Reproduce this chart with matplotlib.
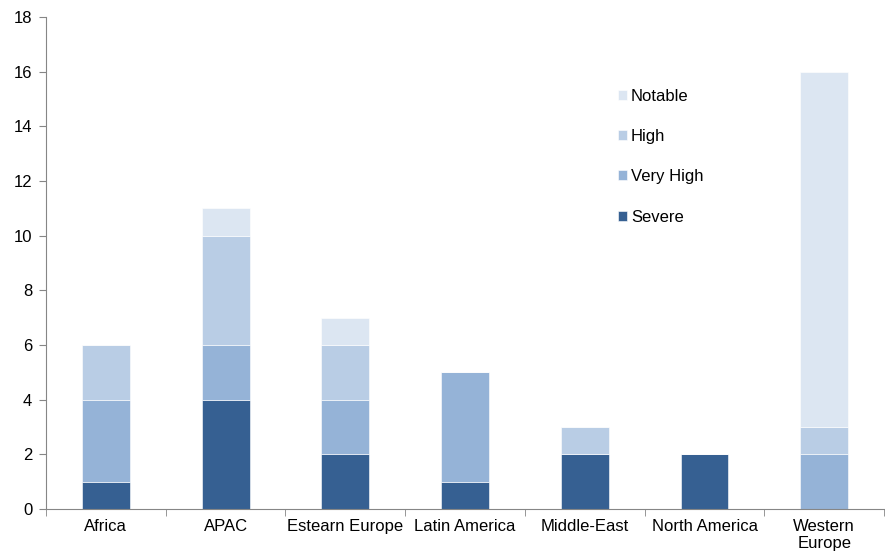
import numpy as np
import matplotlib.pyplot as plt

# Regions and severity counts
regions = ['Africa', 'APAC', 'Estearn Europe', 'Latin America',
           'Middle-East', 'North America', 'Western\nEurope']
severe = [1, 4, 2, 1, 2, 2, 0]
very_high = [3, 2, 2, 4, 0, 0, 2]
high = [2, 4, 2, 0, 1, 0, 1]
notable = [0, 1, 1, 0, 0, 0, 13]

series = [('Severe', severe, '#366092'),
          ('Very High', very_high, '#95b3d7'),
          ('High', high, '#b9cde5'),
          ('Notable', notable, '#dce6f2')]

plt.rcParams['font.family'] = ['Liberation Sans', 'DejaVu Sans']

fig = plt.figure(figsize=(8.85, 5.59), dpi=100)
ax = fig.add_axes([0.052, 0.0894, 0.947, 0.8802])

x = np.arange(len(regions))
bottom = np.zeros(len(regions))
handles = []
for name, vals, col in series:
    b = ax.bar(x, vals, 0.4, bottom=bottom, color=col, label=name,
               edgecolor='white', linewidth=0.4)
    handles.append(b)
    bottom += np.array(vals)

ax.set_xlim(-0.5, len(regions) - 0.5)
ax.set_ylim(0, 18)
ax.set_yticks(range(0, 19, 2))

ax.set_xticks(x)
ax.set_xticklabels(regions, fontsize=12, linespacing=1.2)
ax.tick_params(axis='x', length=0, pad=7)
ax.set_xticks(np.arange(-0.5, len(regions)), minor=True)
ax.tick_params(axis='x', which='minor', length=5, color='#868686')
ax.tick_params(axis='y', labelsize=12, length=5, color='#868686', pad=5)

for s in ['top', 'right']:
    ax.spines[s].set_visible(False)
for s in ['left', 'bottom']:
    ax.spines[s].set_color('#868686')

ax.legend(handles[::-1], [h.get_label() for h in handles[::-1]],
          loc='upper left', bbox_to_anchor=(0.664, 0.885), frameon=False,
          fontsize=12, handlelength=0.55, handleheight=0.55,
          handletextpad=0.25, labelspacing=1.52)

fig.savefig('out.png', dpi=100)
